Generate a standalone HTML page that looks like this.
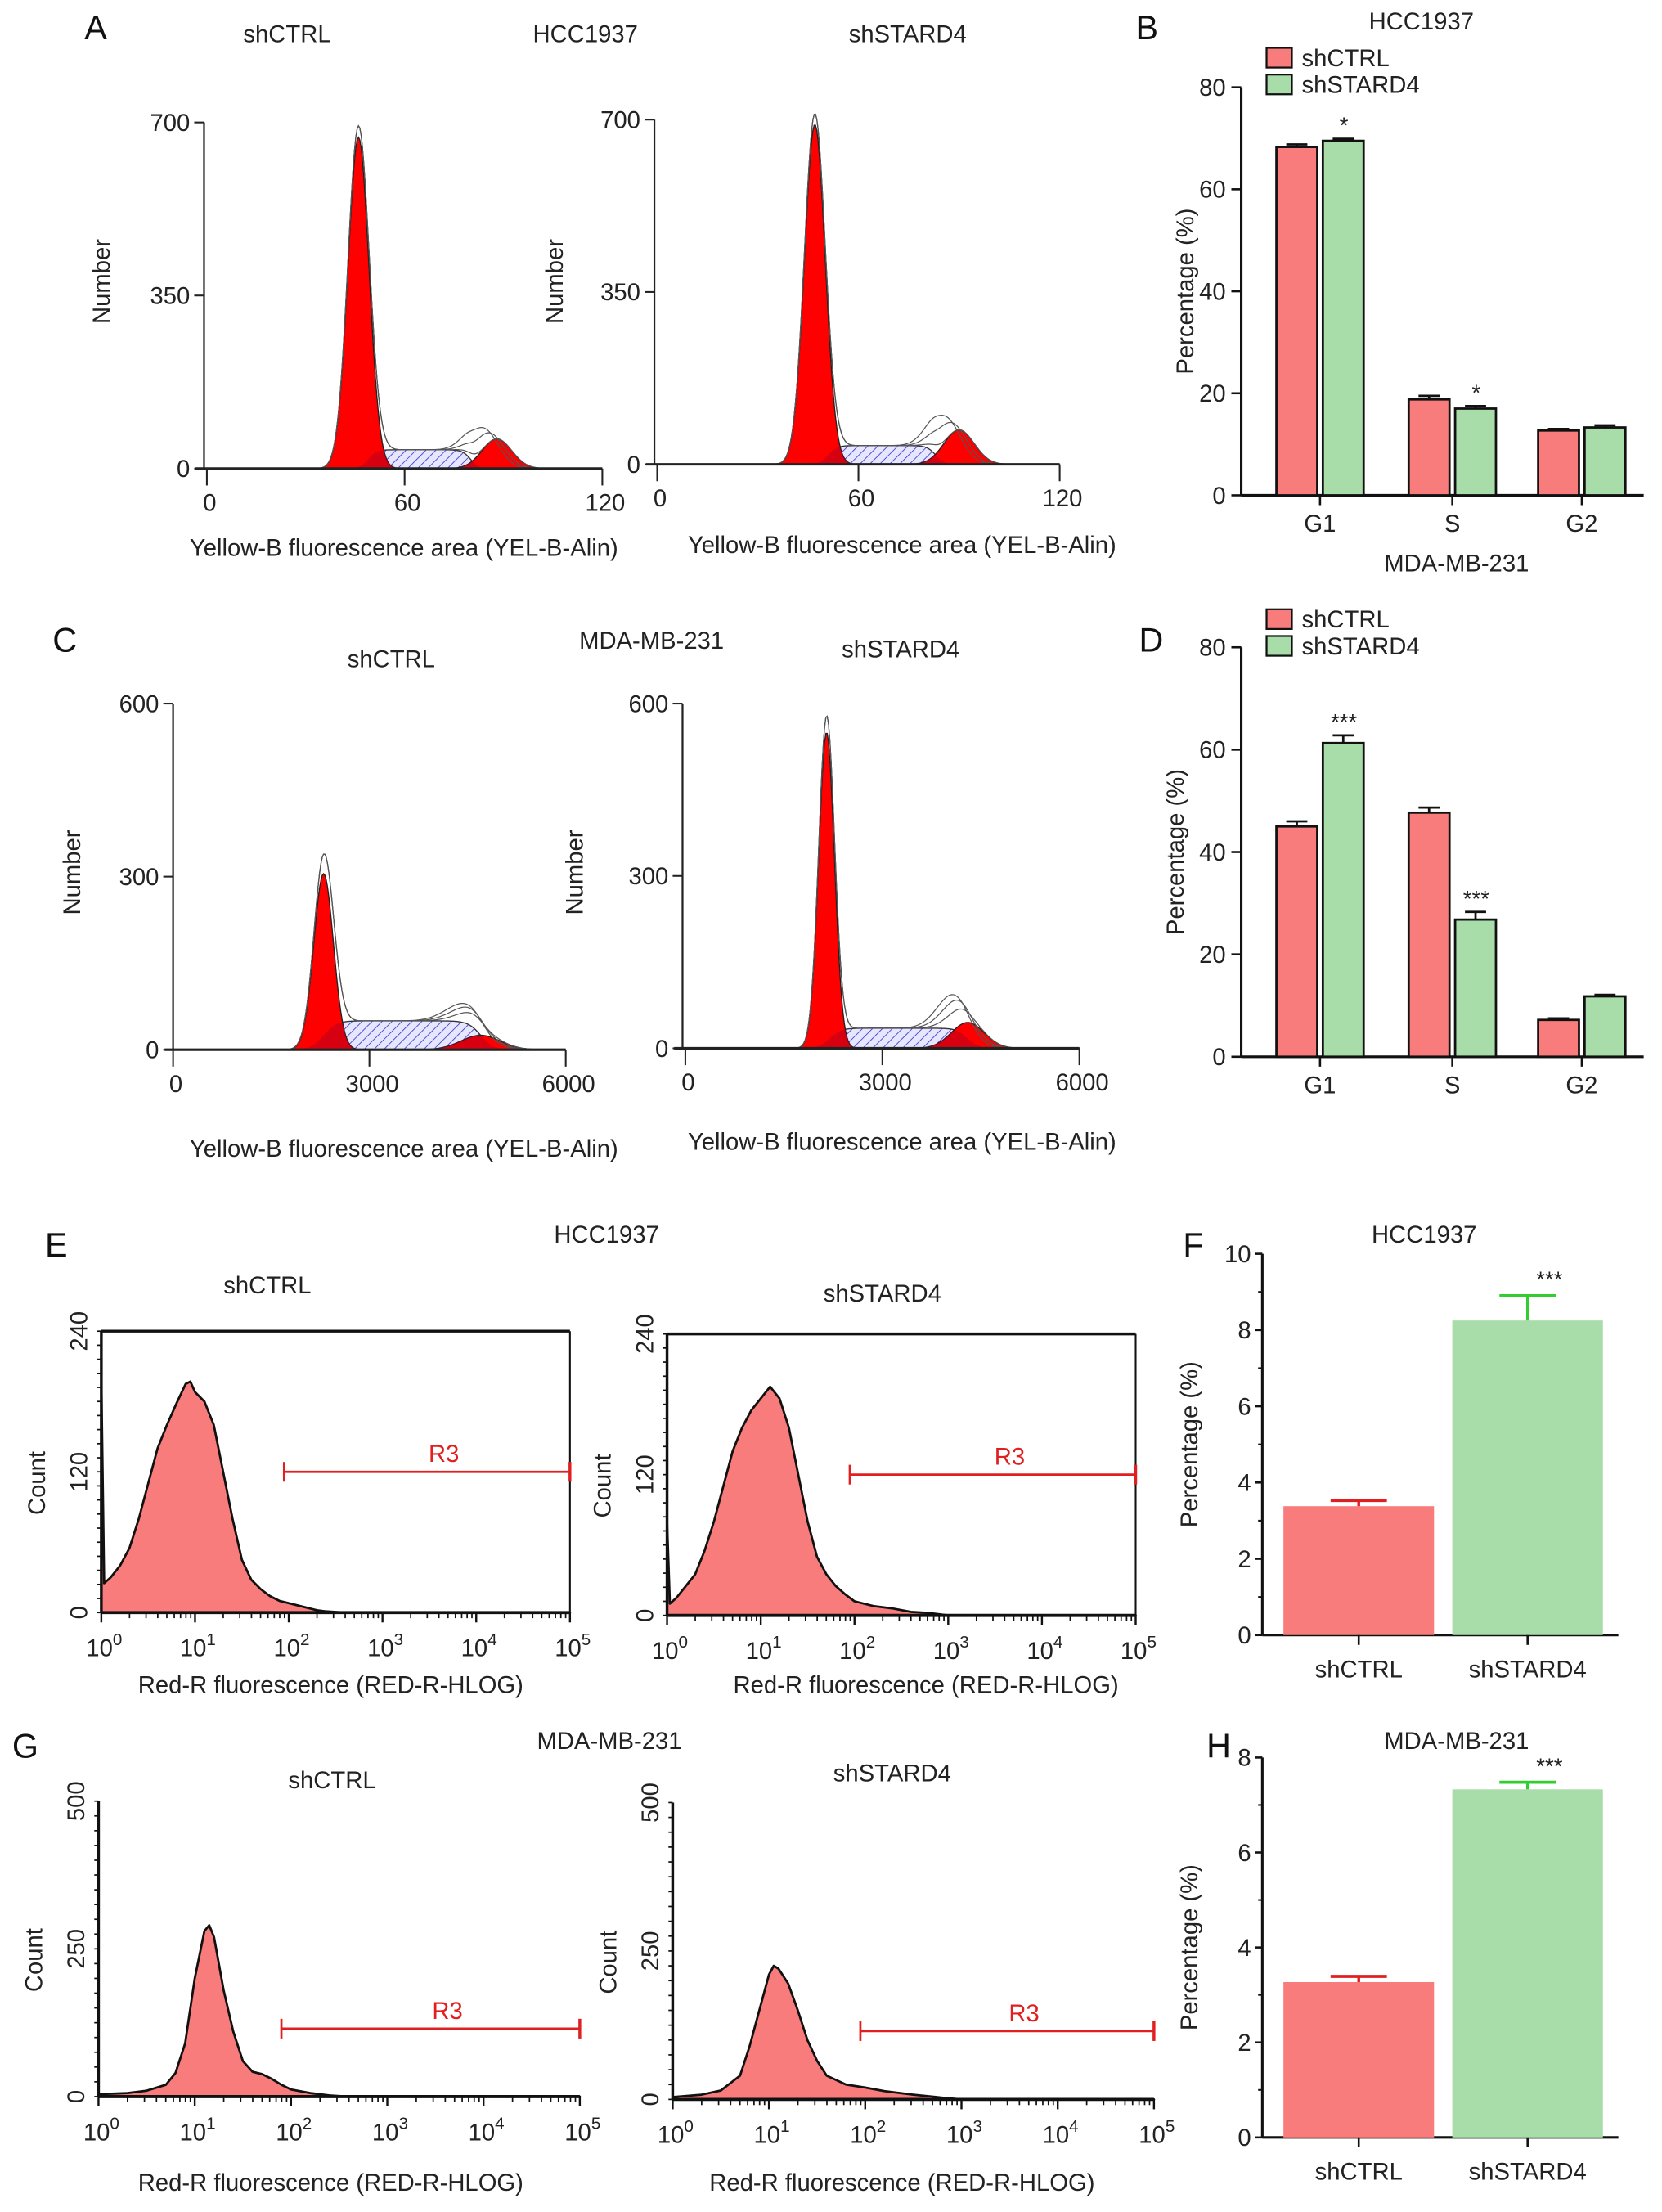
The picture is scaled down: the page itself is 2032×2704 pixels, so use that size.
<!DOCTYPE html>
<html><head><meta charset="utf-8"><style>
html,body{margin:0;padding:0;background:#fff;}
svg{display:block;font-family:"Liberation Sans",Arial,sans-serif;}
</style></head><body>
<svg id="fig" xmlns="http://www.w3.org/2000/svg" width="2032" height="2704" viewBox="0 0 1181 1572" preserveAspectRatio="none">
<defs>
<pattern id="hatch" patternUnits="userSpaceOnUse" width="5" height="5" patternTransform="rotate(45)">
<rect width="5" height="5" fill="#e6e6ff"/><line x1="0" y1="0" x2="0" y2="5" stroke="#3a3ad0" stroke-width="1"/>
</pattern>
</defs>
</svg>
<script>
// ---- cell-cycle model data (mean, sd, height) ----
const a1G1=[46,3.2,670], a1S=[49,80,38], a1G2=[88,4.5,60];
const a2G1=[47,3.1,690], a2S=[51,83,38], a2G2=[90,4.5,70];
const c1G1=[2300,150,305], c1S=[2300,4700,50], c1G2=[4700,300,25];
const c2G1=[2150,120,550], c2S=[2200,4300,35], c2G2=[4300,250,45];
// ---- log histogram data (decade position, count) ----
const e1X=[0,0.03,0.1,0.2,0.3,0.4,0.5,0.6,0.7,0.8,0.9,0.95,1.0,1.1,1.2,1.3,1.4,1.5,1.6,1.7,1.8,1.9,2.0,2.1,2.2,2.3,2.4,2.6,5];
const e1Y=[200,25,30,40,55,80,110,140,160,178,195,197,188,180,160,120,80,45,28,20,14,10,8,6,4,2,1,0,0];
const e2X=[0,0.03,0.1,0.2,0.3,0.4,0.5,0.6,0.7,0.8,0.9,1.0,1.1,1.15,1.2,1.3,1.4,1.5,1.6,1.7,1.8,1.9,2.0,2.2,2.4,2.6,2.8,3.0,5];
const e2Y=[80,10,15,25,35,55,80,110,140,160,175,185,195,190,185,160,120,80,50,35,25,18,12,8,6,3,2,0,0];
const g1X=[0,0.3,0.5,0.7,0.8,0.9,1.0,1.1,1.15,1.2,1.3,1.4,1.5,1.6,1.7,1.8,1.9,2.0,2.2,2.4,2.6,5];
const g1Y=[4,6,10,20,40,90,200,280,290,270,180,110,60,42,38,30,20,12,6,2,0,0];
const g2X=[0,0.3,0.5,0.7,0.8,0.9,1.0,1.05,1.1,1.2,1.3,1.4,1.5,1.6,1.8,2.0,2.2,2.5,2.8,3.0,5];
const g2Y=[4,8,15,40,90,150,210,225,220,195,150,100,65,40,25,20,14,8,3,0,0];
// ---- bar chart data ----
const phases=["G1","S","G2"];
const bCtrl=[68.3,18.8,12.7], bKd=[69.5,17.0,13.3], bCtrlErr=[0.5,0.7,0.3], bKdErr=[0.4,0.5,0.4];
const bKdSig=["*","*",""];
const dCtrl=[45.0,47.7,7.2], dKd=[61.3,26.8,11.8], dCtrlErr=[1.0,1.0,0.3], dKdErr=[1.5,1.5,0.3];
const dKdSig=["***","***",""];
const groups=["shCTRL","shSTARD4"];
const fVals=[3.38,8.25], fErr=[0.15,0.65];
const hVals=[3.27,7.33], hErr=[0.12,0.15];
const yTicksB=[0,20,40,60,80];
const yTicksF=[0,2,4,6,8,10];
const yTicksH=[0,2,4,6,8];

const svg=document.getElementById('fig');
const NS="http://www.w3.org/2000/svg";
function mk(tag,attrs,parent){const e=document.createElementNS(NS,tag);for(const k in attrs)e.setAttribute(k,attrs[k]);(parent||svg).appendChild(e);return e;}
function txt(x,y,s,size,anchor,rot,fill,name){
  const t=mk('text',{x:x,y:y,'font-size':size,'text-anchor':anchor||'middle',fill:fill||'#222'});
  if(rot)t.setAttribute('transform','rotate('+rot+' '+x+' '+y+')');
  
  
  t.textContent=s;return t;}
function line(x1,y1,x2,y2,c,w,name){const l=mk('line',{x1:x1,y1:y1,x2:x2,y2:y2,stroke:c||'#222','stroke-width':w||1.3});
  
  return l;}
function gauss(x,p){return p[2]*Math.exp(-0.5*Math.pow((x-p[0])/p[1],2));}
function sComp(x,p,w){const r=1/(1+Math.exp(-(x-p[0])/w)), f=1/(1+Math.exp((x-p[1])/w));return p[2]*r*f;}

function cellCycle(cfg,G1,S,G2,name){
  const g=mk('g',{});
  
  
  const sx=v=>cfg.x0+(v/cfg.xMax)*(cfg.x1-cfg.x0);
  const sy=v=>cfg.y0-(v/cfg.yMax)*(cfg.y0-cfg.yTop);
  const N=300, w=(S[1]-S[0])*0.04;
  function path(fn){let d='M'+sx(0)+','+sy(0);for(let i=0;i<=N;i++){const v=cfg.xMax*i/N;d+=' L'+sx(v).toFixed(2)+','+sy(fn(v)).toFixed(2);}return d+' L'+sx(cfg.xMax)+','+sy(0)+'Z';}
  const sp=mk('path',{d:path(v=>sComp(v,S,w)),fill:'url(#hatch)',stroke:'#333','stroke-width':0.8},g);
  
  const p1=mk('path',{d:path(v=>gauss(v,G1)),fill:'#ff0000',stroke:'#222','stroke-width':0.8},g);
  
  const p2=mk('path',{d:path(v=>gauss(v,G2)),fill:'#ff0000',stroke:'#222','stroke-width':0.8},g);
  
  const p3=mk('path',{d:path(v=>Math.min(sComp(v,S,w),gauss(v,G2))),fill:'#b00020',stroke:'none',opacity:0.5},g);
  
  const p4=mk('path',{d:path(v=>Math.min(sComp(v,S,w),gauss(v,G1))),fill:'#b00020',stroke:'none',opacity:0.5},g);
  
  [[0,1],[-0.035,1.35],[-0.02,1.2]].forEach(o=>{
    let d='';for(let i=0;i<=N;i++){const v=cfg.xMax*i/N;const G2b=[G2[0]+o[0]*cfg.xMax,G2[1],G2[2]*o[1]];
      const y=gauss(v,[G1[0],G1[1],G1[2]*1.03])+sComp(v,S,w)+gauss(v,G2b);d+=(i?' L':'M')+sx(v).toFixed(2)+','+sy(y).toFixed(2);}
    const e=mk('path',{d:d,fill:'none',stroke:'#555','stroke-width':0.7},g);
    
  });
  line(cfg.ax,cfg.yTop,cfg.ax,cfg.y0,'#222',1.3,'y-axis');
  line(cfg.ax-6,cfg.y0,cfg.x1,cfg.y0,'#222',1.8,'x-axis');
  cfg.yTicks.forEach(t=>{line(cfg.ax-7,sy(t),cfg.ax,sy(t),'#222',1.2,'y-tick');txt(cfg.ax-10,sy(t)+6,String(t),17,'end',0,'#222','y-tick-label');});
  cfg.xTicks.forEach(t=>{line(sx(t),cfg.y0,sx(t),cfg.y0+12,'#222',1.2,'x-tick');txt(sx(t)+2,cfg.y0+30,String(t),17,'middle',0,'#222','x-tick-label');});
  txt(cfg.ylx,cfg.yly,'Number',17,'middle',-90,'#222','y-axis-title');
  txt(cfg.xlx,cfg.xly,'Yellow-B fluorescence area (YEL-B-Alin)',17,'middle',0,'#222','x-axis-title');
}
cellCycle({x0:147,x1:428,xMax:120,y0:333,yTop:87,yMax:700,ax:145,yTicks:[0,350,700],xTicks:[0,60,120],ylx:78,yly:200,xlx:287,xly:395},a1G1,a1S,a1G2,'hist-a-shctrl');
cellCycle({x0:467,x1:753,xMax:120,y0:330,yTop:85,yMax:700,ax:465,yTicks:[0,350,700],xTicks:[0,60,120],ylx:400,yly:200,xlx:641,xly:393},a2G1,a2S,a2G2,'hist-a-shstard4');
cellCycle({x0:123,x1:402,xMax:6000,y0:746,yTop:500,yMax:600,ax:123,yTicks:[0,300,600],xTicks:[0,3000,6000],ylx:57,yly:620,xlx:287,xly:822},c1G1,c1S,c1G2,'hist-c-shctrl');
cellCycle({x0:487,x1:767,xMax:6000,y0:745,yTop:500,yMax:600,ax:485,yTicks:[0,300,600],xTicks:[0,3000,6000],ylx:414,yly:620,xlx:641,xly:817},c2G1,c2S,c2G2,'hist-c-shstard4');

function logHist(cfg,X,Y,name){
  const sx=v=>cfg.l+(v/5)*(cfg.r-cfg.l);
  const sy=v=>cfg.b-(v/cfg.yMax)*(cfg.b-cfg.t);
  let d='M'+sx(0)+','+sy(0);
  for(let i=0;i<X.length;i++)d+=' L'+sx(X[i]).toFixed(2)+','+sy(Y[i]).toFixed(2);
  d+=' L'+sx(5)+','+sy(0)+'Z';
  const p=mk('path',{d:d,fill:'#f87c7c',stroke:'#111','stroke-width':1.6,'stroke-linejoin':'round'});
  
  line(cfg.l,cfg.t,cfg.l,cfg.b,'#111',2,'y-axis');
  line(cfg.l,cfg.b,cfg.r,cfg.b,'#111',2.2,'x-axis');
  if(cfg.box){line(cfg.l,cfg.t,cfg.r,cfg.t,'#111',2,'plot-border');line(cfg.r,cfg.t,cfg.r,cfg.b,'#111',1.2,'plot-border');}
  for(let dcd=0;dcd<5;dcd++){for(let m=2;m<10;m++){const xx=sx(dcd+Math.log10(m));line(xx,cfg.b,xx,cfg.b+4,'#111',1,'minor-tick');}}
  for(let dcd=0;dcd<=5;dcd++){const xx=sx(dcd);line(xx,cfg.b,xx,cfg.b+7,'#111',1.4,'x-tick');
    const t=txt(xx+2,cfg.b+31,'10',17,'middle',0,'#222','x-tick-label');
    const ts=mk('tspan',{dy:-8,'font-size':12},t);ts.textContent=String(dcd);}
  [0,cfg.yMax/2,cfg.yMax].forEach(v=>{txt(cfg.l-10,sy(v),String(v),17,'middle',-90,'#222','y-tick-label');});
  for(let k=0;k<=20;k++){const yy=sy(cfg.yMax*k/20);line(cfg.l-3,yy,cfg.l,yy,'#111',1,'y-minor-tick');}
  txt(cfg.l-40,(cfg.t+cfg.b)/2+8,'Count',17,'middle',-90,'#222','y-axis-title');
  const ry=sy(cfg.r3);
  line(sx(cfg.r3x),ry,cfg.r,ry,'#e02020',1.6,'r3-gate');
  line(sx(cfg.r3x),ry-7,sx(cfg.r3x),ry+7,'#e02020',1.6,'r3-gate-end');
  line(cfg.r,ry-7,cfg.r,ry+7,'#e02020',2,'r3-gate-end');
  txt((sx(cfg.r3x)+cfg.r)/2+12,ry-7,'R3',17,'middle',0,'#e02020','r3-label');
  txt(cfg.xlx,cfg.xly,'Red-R fluorescence (RED-R-HLOG)',17,'middle',0,'#222','x-axis-title');
}
logHist({l:72,r:405,t:946,b:1146,yMax:240,box:true,r3:120,r3x:1.95,xlx:235,xly:1203},e1X,e1Y,'hist-e-shctrl');
logHist({l:474,r:807,t:948,b:1148,yMax:240,box:true,r3:120,r3x:1.95,xlx:658,xly:1203},e2X,e2Y,'hist-e-shstard4');
logHist({l:70,r:412,t:1280,b:1490,yMax:500,box:false,r3:115,r3x:1.9,xlx:235,xly:1557},g1X,g1Y,'hist-g-shctrl');
logHist({l:478,r:820,t:1281,b:1492,yMax:500,box:false,r3:115,r3x:1.95,xlx:641,xly:1557},g2X,g2Y,'hist-g-shstard4');

function grouped(cfg,A,B,Ae,Be,sig,name){
  const sy=v=>cfg.y0-(v/cfg.yMax)*(cfg.y0-cfg.yTop);
  line(cfg.ax,cfg.yTop,cfg.ax,cfg.y0,'#111',1.8,'y-axis');
  line(cfg.ax,cfg.y0,1168,cfg.y0,'#111',1.8,'x-axis');
  yTicksB.forEach(t=>{line(cfg.ax-7,sy(t),cfg.ax,sy(t),'#111',1.5,'y-tick');txt(cfg.ax-11,sy(t)+6,String(t),17,'end',0,'#222','y-tick-label');});
  const cx=[938,1032,1124];
  phases.forEach((p,i)=>{
    [[A[i],Ae[i],'#f87c7c',-31,'bar-shctrl-'+p],[B[i],Be[i],'#a8dca8',2,'bar-shstard4-'+p]].forEach(b=>{
      const x=cx[i]+b[3], y=sy(b[0]);
      const r=mk('rect',{x:x,y:y,width:29,height:cfg.y0-y,fill:b[2],stroke:'#111','stroke-width':1.6});
      
      const ye=sy(b[0]+b[1]);line(x+14.5,ye,x+14.5,y,'#111',1.6,'error-bar');line(x+7,ye,x+22,ye,'#111',1.6,'error-cap');
    });
    line(cx[i],cfg.y0,cx[i],cfg.y0+7,'#111',1.5,'x-tick');
    txt(cx[i],cfg.y0+26,p,17,'middle',0,'#222','x-tick-label');
    if(sig[i])txt(cx[i]+17,sy(B[i]+Be[i])-4,sig[i],16,'middle',0,'#222','significance');
  });
  txt(cfg.ylx,(cfg.y0+cfg.yTop)/2,'Percentage (%)',17,'middle',-90,'#222','y-axis-title');
  const l1=mk('rect',{x:900,y:cfg.legY,width:18,height:14,fill:'#f87c7c',stroke:'#111','stroke-width':1.3});
  
  const l2=mk('rect',{x:900,y:cfg.legY+19,width:18,height:14,fill:'#a8dca8',stroke:'#111','stroke-width':1.3});
  
  txt(925,cfg.legY+13,'shCTRL',17,'start',0,'#222','legend-entry');
  txt(925,cfg.legY+32,'shSTARD4',17,'start',0,'#222','legend-entry');
}
grouped({ax:882,y0:352,yTop:62,yMax:80,ylx:848,legY:34},bCtrl,bKd,bCtrlErr,bKdErr,bKdSig,'bar-b');
grouped({ax:882,y0:751,yTop:460,yMax:80,ylx:841,legY:433},dCtrl,dKd,dCtrlErr,dKdErr,dKdSig,'bar-d');

function twoBar(cfg,V,E,ticks,name){
  const sy=v=>cfg.y0-(v/cfg.yMax)*(cfg.y0-cfg.yTop);
  line(cfg.ax,cfg.yTop,cfg.ax,cfg.y0,'#111',1.8,'y-axis');
  line(cfg.ax,cfg.y0,1150,cfg.y0,'#111',1.8,'x-axis');
  ticks.forEach(t=>{line(cfg.ax-5,sy(t),cfg.ax,sy(t),'#111',1.5,'y-tick');txt(cfg.ax-8,sy(t)+6,String(t),17,'end',0,'#222','y-tick-label');});
  for(let k=0;k<ticks.length-1;k++){const mid=(ticks[k]+ticks[k+1])/2;line(cfg.ax-3,sy(mid),cfg.ax,sy(mid),'#111',1.2,'y-minor-tick');}
  const xs=[912,1032], cols=['#f87c7c','#a8dca8'], ec=['#e02020','#33cc33'];
  groups.forEach((gname,i)=>{
    const y=sy(V[i]);
    const r=mk('rect',{x:xs[i],y:y,width:107,height:cfg.y0-y,fill:cols[i]});
    
    const ye=sy(V[i]+E[i]);const cx=xs[i]+53.5;
    line(cx,ye,cx,y,ec[i],2,'error-bar');line(cx-20,ye,cx+20,ye,ec[i],2.2,'error-cap');
    line(cx,cfg.y0,cx,cfg.y0+7,'#111',1.5,'x-tick');
    txt(cx,cfg.y0+30,gname,17,'middle',0,'#222','x-tick-label');
  });
  txt(1101,sy(V[1]+E[1])-6,'***',16,'middle',0,'#222','significance');
  txt(cfg.ax-46,(cfg.y0+cfg.yTop)/2,'Percentage (%)',17,'middle',-90,'#222','y-axis-title');
}
twoBar({ax:897,y0:1162,yTop:891,yMax:10},fVals,fErr,yTicksF,'bar-f');
twoBar({ax:897,y0:1519,yTop:1249,yMax:8},hVals,hErr,yTicksH,'bar-h');

[['A',68,28,24],['B',815,28,24],['C',46,463,24],['D',818,463,24],['E',40,893,24],['F',848,893,24],['G',18,1249,24],['H',866,1249,24]].forEach(a=>txt(a[1],a[2],a[0],a[3],'middle',0,'#111','panel-letter-'+a[0].toLowerCase()));
[['shCTRL',204,30],['HCC1937',416,30],['shSTARD4',645,30],['HCC1937',1010,21],
 ['MDA-MB-231',1035,406],['shCTRL',278,474],['MDA-MB-231',463,461],['shSTARD4',640,467],
 ['HCC1937',431,883],['shCTRL',190,919],['shSTARD4',627,925],['HCC1937',1012,883],
 ['MDA-MB-231',433,1243],['shCTRL',236,1271],['shSTARD4',634,1266],['MDA-MB-231',1035,1243]
].forEach(a=>txt(a[1],a[2],a[0],17,'middle',0,'#222','panel-title'));
</script>
</body></html>
